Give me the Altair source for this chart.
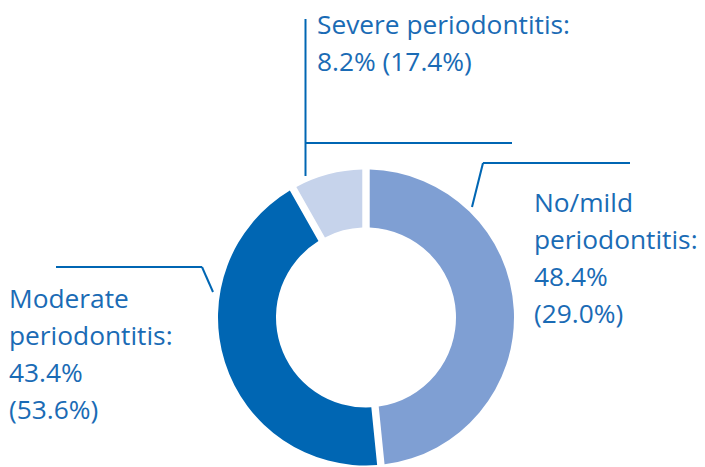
import altair as alt
import pandas as pd

# ---- data ----
categories = ["No/mild", "Moderate", "Severe"]
shares = [48.4, 43.4, 8.2]            # main percentage
bracket_shares = [29.0, 53.6, 17.4]   # percentage in brackets
colors = ["#7f9fd3", "#0066b3", "#c6d3eb"]

# ---- layout (page pixel coordinates) ----
label_x = [534, 9, 317]
label_y = [212, 308, 34]
leader_segments = [  # x, y, x2, y2
    (483, 163, 630, 163), (483, 163, 472, 207),
    (56, 267, 202, 267), (202, 267, 213, 292),
    (305.5, 19, 305.5, 176), (305.5, 143, 512, 143),
]

W, H = 689, 458
text_color = "#1a6bb5"
line_color = "#0066b3"
font = "Open Sans"


def label_text(cat, a, b):
    if cat == "Severe":
        return f"{cat} periodontitis:\n{a:.1f}% ({b:.1f}%)"
    return f"{cat}\nperiodontitis:\n{a:.1f}%\n({b:.1f}%)"


slices = pd.DataFrame({
    "category": categories,
    "share": shares,
    "order": list(range(len(categories))),
})
labels = pd.DataFrame({
    "text": [label_text(c, a, b) for c, a, b in zip(categories, shares, bracket_shares)],
    "x": label_x,
    "y": label_y,
})
segs = pd.DataFrame(leader_segments, columns=["x", "y", "x2", "y2"])

xs = alt.Scale(domain=[8, 8 + W], nice=False, zero=False)
ys = alt.Scale(domain=[8, 8 + H], nice=False, zero=False, reverse=True)

donut = alt.Chart(slices).mark_arc(
    radius=148, radius2=90, padAngle=0.043
).encode(
    theta=alt.Theta("share:Q", stack=True),
    order=alt.Order("order:Q"),
    color=alt.Color("category:N", scale=alt.Scale(domain=categories, range=colors), legend=None),
    x=alt.value(366 - 8),
    y=alt.value(317.5 - 8),
)

rules = alt.Chart(segs).mark_rule(color=line_color, strokeWidth=2).encode(
    x=alt.X("x:Q", scale=xs, axis=None),
    y=alt.Y("y:Q", scale=ys, axis=None),
    x2="x2:Q",
    y2="y2:Q",
)

texts = alt.Chart(labels).mark_text(
    align="left", baseline="alphabetic", lineBreak="\n", lineHeight=37,
    font=font, fontSize=26.3, color=text_color,
).encode(
    x=alt.X("x:Q", scale=xs, axis=None),
    y=alt.Y("y:Q", scale=ys, axis=None),
    text="text:N",
)

chart = alt.layer(donut, rules, texts).properties(
    width=W, height=H,
    autosize=alt.AutoSizeParams(type="none"),
    padding=0,
).configure_view(stroke=None)

chart.save("out.html", embed_options={"renderer": "svg", "actions": False})
